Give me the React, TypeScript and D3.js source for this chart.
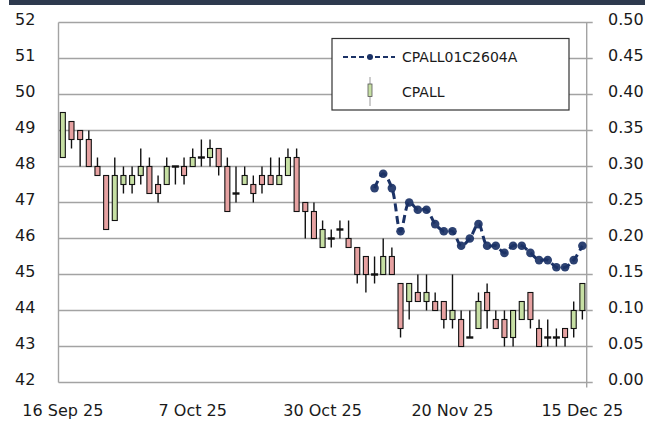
import React from 'react';
import * as d3 from 'd3';

const dates = [
  '2025-09-16','2025-09-17','2025-09-18','2025-09-19','2025-09-22','2025-09-23','2025-09-24','2025-09-25','2025-09-26','2025-09-29','2025-09-30',
  '2025-10-01','2025-10-02','2025-10-03','2025-10-06','2025-10-07','2025-10-08','2025-10-09','2025-10-10','2025-10-14','2025-10-15','2025-10-16','2025-10-17',
  '2025-10-20','2025-10-21','2025-10-22','2025-10-24','2025-10-27','2025-10-28','2025-10-29','2025-10-30','2025-10-31',
  '2025-11-03','2025-11-04','2025-11-05','2025-11-06','2025-11-07','2025-11-10','2025-11-11','2025-11-12','2025-11-13','2025-11-14',
  '2025-11-17','2025-11-18','2025-11-19','2025-11-20','2025-11-21','2025-11-24','2025-11-25','2025-11-26','2025-11-27','2025-11-28',
  '2025-12-01','2025-12-02','2025-12-03','2025-12-04','2025-12-08','2025-12-09','2025-12-11','2025-12-12','2025-12-15',
];

const openPrices = [
  48.25, 49.25, 49.0, 48.75, 48.0, 47.75, 46.5, 47.5, 47.5, 47.75, 48.0, 47.5, 47.5, 48.0, 48.0,
  48.0, 48.25, 48.25, 48.5, 48.0, 47.25, 47.5, 47.5, 47.75, 47.75, 47.5, 47.75, 48.25, 47.0, 46.75,
  45.75, 46.0, 46.25, 46.0, 45.75, 45.5, 45.0, 45.0, 45.5, 44.75, 44.25, 44.5, 44.25, 44.25, 44.25,
  43.75, 43.75, 43.25, 43.5, 44.5, 43.75, 43.75, 43.25, 43.75, 44.5, 43.5, 43.25, 43.25, 43.5, 43.5, 44.0,
];
const highPrices = [
  49.5, 49.25, 49.0, 49.0, 48.25, 47.75, 48.25, 48.0, 48.0, 48.5, 48.25, 47.75, 48.25, 48.0, 48.25,
  48.5, 48.75, 48.75, 48.5, 48.25, 48.0, 48.0, 47.75, 48.0, 48.25, 48.25, 48.5, 48.5, 47.0, 47.0,
  46.5, 46.25, 46.5, 46.5, 45.75, 45.5, 45.5, 46.0, 45.75, 44.75, 44.75, 45.0, 45.0, 44.5, 44.25,
  45.0, 44.0, 44.0, 44.5, 44.75, 44.0, 44.0, 44.0, 44.25, 44.5, 43.75, 43.75, 43.5, 43.5, 44.25, 44.75,
];
const lowPrices = [
  48.25, 48.5, 48.0, 48.0, 47.75, 46.25, 46.5, 47.25, 47.25, 47.5, 47.25, 47.0, 47.5, 47.5, 47.5,
  48.0, 48.0, 48.0, 47.75, 46.75, 47.0, 47.5, 47.0, 47.25, 47.5, 47.5, 47.75, 46.75, 46.0, 46.0,
  45.75, 45.75, 46.0, 45.75, 44.75, 44.5, 44.75, 45.0, 45.0, 43.25, 43.75, 44.25, 44.0, 44.0, 43.5,
  43.5, 43.0, 43.25, 43.5, 43.5, 43.5, 43.0, 43.0, 43.75, 43.5, 43.0, 43.0, 43.0, 43.0, 43.25, 43.75,
];
const closePrices = [
  49.5, 48.75, 48.75, 48.0, 47.75, 46.25, 47.75, 47.75, 47.75, 48.0, 47.25, 47.25, 48.0, 48.0, 47.75,
  48.25, 48.25, 48.5, 48.0, 46.75, 47.25, 47.75, 47.25, 47.5, 47.5, 47.75, 48.25, 46.75, 46.75, 46.0,
  46.25, 46.0, 46.25, 45.75, 45.0, 45.0, 45.0, 45.5, 45.0, 43.5, 44.75, 44.25, 44.5, 44.0, 43.75,
  44.0, 43.0, 43.25, 44.25, 44.0, 43.5, 43.25, 44.0, 44.25, 43.75, 43.0, 43.25, 43.25, 43.25, 44.0, 44.75,
];

const warrantDates = dates.slice(36);
const warrantValues = [
  0.27, 0.29, 0.27, 0.21, 0.25, 0.24, 0.24, 0.22, 0.21, 0.21, 0.19, 0.20, 0.22,
  0.19, 0.19, 0.18, 0.19, 0.19, 0.18, 0.17, 0.17, 0.16, 0.16, 0.17, 0.19,
];

const leftTicks = [42, 43, 44, 45, 46, 47, 48, 49, 50, 51, 52];
const rightTicks = [0, 0.05, 0.1, 0.15, 0.2, 0.25, 0.3, 0.35, 0.4, 0.45, 0.5];
const xTickDates = ['2025-09-16', '2025-10-07', '2025-10-30', '2025-11-20', '2025-12-15'];
const xTickLabels = ['16 Sep 25', '7 Oct 25', '30 Oct 25', '20 Nov 25', '15 Dec 25'];

const warrantName = 'CPALL01C2604A';
const stockName = 'CPALL';

const W = 654;
const H = 421;
const PLOT = { left: 58.5, right: 586.7, top: 22.5, bottom: 382.5 };
const UP = '#c6dfa3';
const DOWN = '#e6a1a1';
const NAVY = '#1b3266';
const GRID = '#a3a3a3';
const FONT = "'DejaVu Sans', sans-serif";

export default function App() {
  const x = d3.scaleBand<string>().domain(dates).range([PLOT.left, PLOT.right]);
  const cx = (d: string) => (x(d) as number) + x.bandwidth() / 2;
  const yL = d3.scaleLinear().domain([42, 52]).range([PLOT.bottom, PLOT.top]);
  const yR = d3.scaleLinear().domain([0, 0.5]).range([PLOT.bottom, PLOT.top]);

  const lineGen = d3
    .line<number>()
    .x((_, i) => cx(warrantDates[i]))
    .y((d) => yR(d))
    .curve(d3.curveCatmullRom.alpha(0.5));

  const bodyW = 5;

  return (
    <svg
      width={W}
      height={H}
      style={{ position: 'absolute', left: 0, top: 0, display: 'block', background: '#fff' }}
      fontFamily={FONT}
    >
      <rect x={9} y={0} width={636} height={5} fill="#2e3a4e" />

      {/* gridlines */}
      {leftTicks.map((t) => (
        <line key={'g' + t} x1={PLOT.left} x2={PLOT.right + 6} y1={yL(t)} y2={yL(t)} stroke={GRID} strokeWidth={1.4} />
      ))}
      <line x1={PLOT.left} x2={PLOT.left} y1={PLOT.top} y2={PLOT.bottom} stroke={GRID} strokeWidth={1.4} />
      <line x1={PLOT.right} x2={PLOT.right} y1={PLOT.top} y2={PLOT.bottom + 5} stroke={GRID} strokeWidth={1.4} />

      {/* left axis labels */}
      {leftTicks.map((t) => (
        <text key={'l' + t} x={15} y={yL(t) - 3} fontSize={16} fill="#1a1a1a" dominantBaseline="central">
          {t}
        </text>
      ))}
      {/* right axis labels */}
      {rightTicks.map((t) => (
        <text key={'r' + t} x={608} y={yR(t) - 3} fontSize={16} fill="#1a1a1a" dominantBaseline="central">
          {d3.format('.2f')(t)}
        </text>
      ))}
      {/* x labels */}
      {xTickDates.map((d, i) => (
        <text key={'x' + d} x={cx(d)} y={410.5} fontSize={16} fill="#1a1a1a" textAnchor="middle" dominantBaseline="central">
          {xTickLabels[i]}
        </text>
      ))}

      {/* candles */}
      {dates.map((d, i) => {
        const o = openPrices[i];
        const c = closePrices[i];
        const h = highPrices[i];
        const l = lowPrices[i];
        const px = cx(d);
        return (
          <g key={'c' + d}>
            <line x1={px} x2={px} y1={yL(h)} y2={yL(l)} stroke="#111" strokeWidth={1.4} />
            {o === c ? (
              <line x1={px - 3.5} x2={px + 3.5} y1={yL(o)} y2={yL(o)} stroke="#111" strokeWidth={2.4} />
            ) : (
              <rect
                x={px - bodyW / 2}
                width={bodyW}
                y={yL(Math.max(o, c))}
                height={Math.abs(yL(o) - yL(c))}
                fill={c > o ? UP : DOWN}
                stroke="#111"
                strokeWidth={1.1}
              />
            )}
          </g>
        );
      })}

      {/* warrant line */}
      <path d={lineGen(warrantValues) || ''} fill="none" stroke={NAVY} strokeWidth={3} strokeDasharray="8 4.5" />
      {warrantValues.map((v, i) => (
        <circle key={'w' + i} cx={cx(warrantDates[i])} cy={yR(v)} r={4.3} fill={NAVY} opacity={0.92} />
      ))}

      {/* legend */}
      <g>
        <rect x={332} y={38.5} width={237} height={71.5} fill="#fff" stroke="#333" strokeWidth={1.2} />
        <line x1={343} x2={395} y1={57} y2={57} stroke={NAVY} strokeWidth={2} strokeDasharray="5 3" />
        <circle cx={370} cy={57} r={3} fill={NAVY} />
        <text x={402} y={57} fontSize={14} fill="#1a1a1a" dominantBaseline="central">
          {warrantName}
        </text>
        <line x1={370} x2={370} y1={77} y2={106} stroke="#aaa" strokeWidth={1.2} />
        <rect x={368} y={84} width={4} height={12.5} fill={UP} stroke="#555" strokeWidth={0.8} />
        <text x={402} y={92} fontSize={14} fill="#1a1a1a" dominantBaseline="central">
          {stockName}
        </text>
      </g>
    </svg>
  );
}
